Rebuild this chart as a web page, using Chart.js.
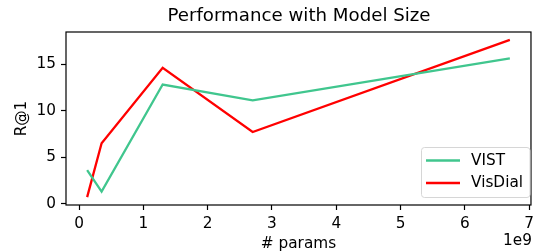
<!DOCTYPE html>
<html>
<head>
<meta charset="utf-8">
<script src="https://cdn.jsdelivr.net/npm/chart.js@4/dist/chart.umd.min.js"></script>
<style>
  html, body { margin: 0; padding: 0; background: #fff; }
  #wrap { width: 539px; height: 252px; position: relative; }
</style>
</head>
<body>
<div id="wrap"><canvas id="c" width="539" height="252"></canvas></div>
<script>
// ---- data ----
const params = [0.125e9, 0.35e9, 1.3e9, 2.7e9, 6.7e9];
const vist = [3.6, 1.3, 12.8, 11.1, 15.6];
const visdial = [0.7, 6.5, 14.6, 7.7, 17.6];
const seriesNames = ['VIST', 'VisDial'];
const xTicks = [0, 1e9, 2e9, 3e9, 4e9, 5e9, 6e9, 7e9];
const yTicks = [0, 5, 10, 15];
const titleText = 'Performance with Model Size';
const xLabel = '# params';
const yLabel = 'R@1';
const xOffsetText = '1e9';

const colors = ['#40c68e', '#ff0000'];
const FONT = '"DejaVu Sans", sans-serif';
const FS = 15.3, TFS = 18.2;

function pts(ys) { return params.map((x, i) => ({ x: x, y: ys[i] })); }

// matplotlib-like 5% margins
const xmin = Math.min(...params), xmax = Math.max(...params);
const allY = vist.concat(visdial);
const ymin = Math.min(...allY), ymax = Math.max(...allY);
const xm = (xmax - xmin) * 0.05, ym = (ymax - ymin) * 0.05;

const decor = {
  id: 'decor',
  afterDraw(chart) {
    const ctx = chart.ctx, a = chart.chartArea;
    ctx.save();
    // spines
    ctx.strokeStyle = '#000';
    ctx.lineWidth = 1.2;
    ctx.strokeRect(a.left, a.top, a.right - a.left, a.bottom - a.top);
    ctx.fillStyle = '#000';
    // title
    ctx.font = TFS + 'px ' + FONT;
    ctx.textAlign = 'center';
    ctx.textBaseline = 'middle';
    ctx.fillText(titleText, (a.left + a.right) / 2 + 0.5, 16.5);
    // x label
    ctx.font = FS + 'px ' + FONT;
    ctx.fillText(xLabel, (a.left + a.right) / 2, 244);
    // offset text
    ctx.textAlign = 'right';
    ctx.fillText(xOffsetText, a.right + 1, 241);
    // y label
    ctx.save();
    ctx.translate(22.5, (a.top + a.bottom) / 2);
    ctx.rotate(-Math.PI / 2);
    ctx.textAlign = 'center';
    ctx.fillText(yLabel, 0, 0);
    ctx.restore();
    // legend
    const lx = 421.5, ly = 147.5, lw = 108.5, lh = 50;
    ctx.beginPath();
    ctx.roundRect(lx, ly, lw, lh, 3);
    ctx.fillStyle = 'rgba(255,255,255,0.8)';
    ctx.fill();
    ctx.strokeStyle = '#d6d6d6';
    ctx.lineWidth = 1;
    ctx.stroke();
    const rows = [160.5, 183];
    chart.data.datasets.forEach((ds, i) => {
      ctx.beginPath();
      ctx.strokeStyle = ds.borderColor;
      ctx.lineWidth = 2.3;
      ctx.moveTo(426, rows[i]);
      ctx.lineTo(460, rows[i]);
      ctx.stroke();
      ctx.fillStyle = '#000';
      ctx.font = FS + 'px ' + FONT;
      ctx.textAlign = 'left';
      ctx.textBaseline = 'middle';
      ctx.fillText(ds.label, 471, rows[i] + 0.5);
    });
    ctx.restore();
  }
};

new Chart(document.getElementById('c'), {
  type: 'line',
  data: {
    datasets: [
      { label: seriesNames[0], data: pts(vist), borderColor: colors[0], backgroundColor: colors[0], borderWidth: 2.3, pointRadius: 0, tension: 0, fill: false },
      { label: seriesNames[1], data: pts(visdial), borderColor: colors[1], backgroundColor: colors[1], borderWidth: 2.3, pointRadius: 0, tension: 0, fill: false }
    ]
  },
  options: {
    responsive: false,
    animation: false,
    devicePixelRatio: 1,
    layout: { padding: { left: 0, right: 1, top: 32, bottom: 0 } },
    plugins: { legend: { display: false }, title: { display: false }, tooltip: { enabled: false } },
    scales: {
      x: {
        type: 'linear',
        min: xmin - xm,
        max: xmax + xm,
        afterBuildTicks(s) { s.ticks = xTicks.map(v => ({ value: v })); },
        afterFit(s) { s.height = 47; },
        grid: { display: true, drawOnChartArea: false, drawTicks: true, tickLength: 5, tickWidth: 1.2, tickColor: '#000' },
        border: { display: false },
        ticks: { color: '#000', font: { family: FONT, size: FS }, padding: 5, maxRotation: 0, callback: v => String(v / 1e9) }
      },
      y: {
        type: 'linear',
        min: ymin - ym,
        max: ymax + ym,
        afterBuildTicks(s) { s.ticks = yTicks.map(v => ({ value: v })); },
        afterFit(s) { s.width = 66; },
        grid: { display: true, drawOnChartArea: false, drawTicks: true, tickLength: 5, tickWidth: 1.2, tickColor: '#000' },
        border: { display: false },
        ticks: { color: '#000', font: { family: FONT, size: FS }, padding: 5, callback: v => String(v) }
      }
    }
  },
  plugins: [decor]
});
</script>
</body>
</html>
